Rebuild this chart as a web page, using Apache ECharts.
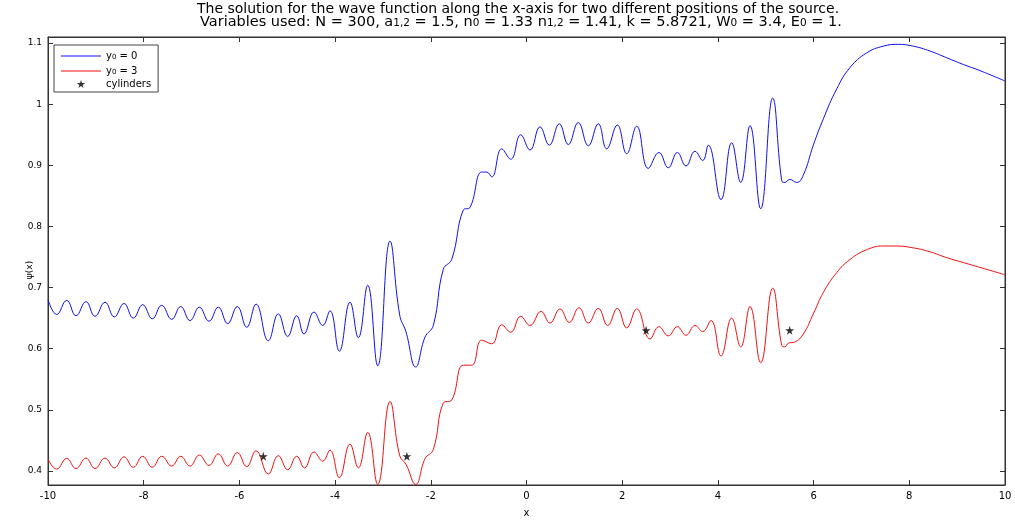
<!DOCTYPE html>
<html>
<head>
<meta charset="utf-8">
<script src="https://cdn.jsdelivr.net/npm/echarts@6/dist/echarts.min.js"></script>
<style>
html,body{margin:0;padding:0;background:#fff;}
#chart{width:1015px;height:523px;}
</style>
</head>
<body>
<div id="chart"></div>
<script>
// ---- data ----
const blueCurve = [
 [-10,0.680],[-9.818,0.656],[-9.609,0.679],[-9.415,0.654],[-9.206,0.677],[-9.018,0.653],
 [-8.809,0.676],[-8.614,0.652],[-8.412,0.674],[-8.217,0.650],[-8.021,0.672],[-7.820,0.649],
 [-7.624,0.671],[-7.415,0.648],[-7.227,0.669],[-7.032,0.646],[-6.838,0.668],[-6.635,0.645],
 [-6.441,0.668],[-6.245,0.641],[-6.044,0.669],[-5.847,0.635],[-5.653,0.673],[-5.396,0.613],
 [-5.187,0.657],[-4.991,0.620],[-4.802,0.654],[-4.650,0.624],[-4.441,0.660],[-4.259,0.638],
 [-4.107,0.662],[-3.912,0.596],[-3.689,0.676],[-3.515,0.618],[-3.319,0.704],[-3.110,0.572],
 [-2.853,0.776],[-2.650,0.655],[-2.520,0.628],[-2.316,0.570],[-2.121,0.619],[-1.948,0.638],
 [-1.739,0.730],[-1.563,0.746],[-1.321,0.827],[-1.181,0.831],[-0.936,0.889],[-0.832,0.889],
 [-0.727,0.881],[-0.518,0.927],[-0.330,0.910],[-0.121,0.950],[0.073,0.925],[0.282,0.963],
 [0.477,0.933],[0.685,0.968],[0.874,0.934],[1.082,0.970],[1.292,0.932],[1.500,0.968],
 [1.676,0.927],[1.898,0.966],[2.094,0.919],[2.303,0.964],[2.545,0.895],[2.769,0.921],
 [2.963,0.896],[3.152,0.921],[3.333,0.899],[3.521,0.923],[3.682,0.908],[3.799,0.933],
 [4.065,0.844],[4.288,0.937],[4.476,0.872],[4.671,0.965],[4.894,0.829],[5.145,1.010],
 [5.333,0.875],[5.400,0.872],[5.500,0.877],[5.646,0.872],[5.785,0.884],[5.994,0.933],
 [6.203,0.976],[6.483,1.025],[6.761,1.060],[7.110,1.084],[7.456,1.095],[7.770,1.098],
 [8.084,1.095],[8.433,1.087],[8.782,1.076],[9.129,1.065],[9.477,1.055],[10,1.038]
];
const redCurve = [
 [-10,0.419],[-9.818,0.403],[-9.609,0.4205],[-9.415,0.404],[-9.206,0.421],[-9.018,0.404],
 [-8.809,0.421],[-8.614,0.405],[-8.412,0.423],[-8.217,0.406],[-8.021,0.424],[-7.820,0.406],
 [-7.624,0.424],[-7.415,0.408],[-7.227,0.424],[-7.032,0.408],[-6.838,0.426],[-6.635,0.409],
 [-6.441,0.428],[-6.245,0.408],[-6.044,0.430],[-5.847,0.407],[-5.653,0.433],[-5.396,0.395],
 [-5.187,0.425],[-4.991,0.402],[-4.802,0.424],[-4.640,0.405],[-4.441,0.431],[-4.259,0.416],
 [-4.107,0.434],[-3.912,0.389],[-3.689,0.444],[-3.515,0.405],[-3.319,0.463],[-3.110,0.378],
 [-2.853,0.5135],[-2.650,0.425],[-2.520,0.411],[-2.316,0.378],[-2.121,0.420],[-1.948,0.435],
 [-1.739,0.511],[-1.563,0.516],[-1.321,0.573],[-1.145,0.573],[-0.936,0.614],[-0.727,0.608],
 [-0.518,0.639],[-0.330,0.627],[-0.121,0.653],[0.073,0.638],[0.303,0.661],[0.491,0.642],
 [0.700,0.665],[0.894,0.643],[1.097,0.667],[1.292,0.642],[1.500,0.666],[1.697,0.638],
 [1.898,0.666],[2.094,0.634],[2.303,0.665],[2.581,0.616],[2.769,0.636],[2.963,0.621],
 [3.152,0.636],[3.333,0.622],[3.521,0.638],[3.682,0.628],[3.856,0.646],[4.065,0.588],
 [4.288,0.650],[4.476,0.603],[4.671,0.669],[4.894,0.577],[5.145,0.699],[5.333,0.6055],
 [5.400,0.603],[5.470,0.609],[5.610,0.611],[5.785,0.624],[5.994,0.657],[6.203,0.692],
 [6.483,0.7245],[6.761,0.746],[7.110,0.762],[7.456,0.768],[7.737,0.768],[8.084,0.765],
 [8.433,0.7586],[8.782,0.749],[9.129,0.741],[9.477,0.733],[10,0.721]
];
const cylinderX = [-5.5, -2.5, 2.5, 5.5];
const cylinderY = [0.424, 0.424, 0.630, 0.630];
const yTickValues = [0.4, 0.5, 0.6, 0.7, 0.8, 0.9, 1.0, 1.1];
const seriesNames = ['y0 = 0', 'y0 = 3', 'cylinders'];
const titleLine1 = 'The solution for the wave function along the x-axis for two different positions of the source.';
const titleLine2 = '{n|Variables used: N = 300, a}{s|1,2}{n| = 1.5, n}{s|0}{n| = 1.33 n}{s|1,2}{n| = 1.41, k = 5.8721, W}{s|0}{n| = 3.4, E}{s|0}{n| = 1.}';

// ---- chart ----
const FONT = 'DejaVu Sans';
const AX = '#333';
const chart = echarts.init(document.getElementById('chart'), null, {renderer: 'canvas'});
const starPath = 'path://M50,0 L61.2,34.5 L97.6,34.5 L68.2,55.9 L79.4,90.5 L50,69.1 L20.6,90.5 L31.8,55.9 L2.4,34.5 L38.8,34.5 Z';
const lineIcon = 'path://M0,0 L40,0 L40,1 L0,1 Z';
const cylData = cylinderX.map((x, i) => [x, cylinderY[i]]);

function legendFmt(name) {
  if (name === seriesNames[0]) return '{n|y}{s|0}{n| = 0}';
  if (name === seriesNames[1]) return '{n|y}{s|0}{n| = 3}';
  return '{n|' + name + '}';
}

const tickStyle = {lineStyle: {color: AX, width: 1}};
const option = {
  animation: false,
  backgroundColor: '#fff',
  title: [
    {
      text: titleLine1, left: 197, top: 2, padding: 0,
      textStyle: {fontFamily: FONT, fontSize: 14, fontWeight: 'normal', color: '#000'}
    },
    {
      text: titleLine2, left: 200, top: 15, padding: 0,
      textStyle: {
        fontFamily: FONT, fontSize: 14.5, fontWeight: 'normal', color: '#000',
        rich: {
          n: {fontFamily: FONT, fontSize: 14.5, lineHeight: 14, verticalAlign: 'top', color: '#000'},
          s: {fontFamily: FONT, fontSize: 10.5, lineHeight: 10, verticalAlign: 'bottom', padding: [8, 0, 0, 0], color: '#000'}
        }
      }
    }
  ],
  legend: {
    left: 54, top: 45, orient: 'vertical',
    data: [
      {name: seriesNames[0], icon: lineIcon},
      {name: seriesNames[1], icon: lineIcon},
      {name: seriesNames[2], icon: starPath}
    ],
    itemWidth: 40, itemHeight: 8, itemGap: 3,
    padding: [4, 7, 3, 7],
    borderColor: '#444', borderWidth: 1, backgroundColor: '#fff',
    formatter: legendFmt,
    textStyle: {
      fontFamily: FONT, fontSize: 10, color: '#000',
      rich: {
        n: {fontFamily: FONT, fontSize: 10, lineHeight: 10, verticalAlign: 'top', color: '#000'},
        s: {fontFamily: FONT, fontSize: 7, lineHeight: 7, verticalAlign: 'bottom', padding: [5, 0, 0, 0], color: '#000'}
      }
    }
  },
  grid: {left: 48, right: 10, top: 37, bottom: 34, containLabel: false,
         show: true, borderColor: AX, borderWidth: 1, backgroundColor: '#fff'},
  xAxis: [
    {
      type: 'value', min: -10, max: 10, interval: 2, position: 'bottom',
      name: 'x', nameLocation: 'middle', nameGap: 23, nameMoveOverlap: false,
      nameTextStyle: {fontFamily: FONT, fontSize: 10, color: '#000'},
      axisLine: {show: true, onZero: false, lineStyle: {color: AX, width: 1}},
      axisTick: Object.assign({inside: true, length: 5}, tickStyle),
      axisLabel: {fontFamily: FONT, fontSize: 10, color: '#000', margin: 6},
      splitLine: {show: false}
    },
    {
      type: 'value', min: -10, max: 10, interval: 2, position: 'top',
      axisLine: {show: true, onZero: false, lineStyle: {color: AX, width: 1}},
      axisTick: Object.assign({inside: true, length: 5}, tickStyle),
      axisLabel: {show: false}, splitLine: {show: false}
    }
  ],
  yAxis: [
    {
      type: 'value', min: 0.377, max: 1.11, position: 'left',
      name: 'ψ(x)', nameLocation: 'middle', nameGap: 14, nameRotate: 90, nameMoveOverlap: false,
      nameTextStyle: {fontFamily: FONT, fontSize: 9, color: '#000', padding: [0, 18, 0, 0]},
      axisLine: {show: true, onZero: false, lineStyle: {color: AX, width: 1}},
      axisTick: Object.assign({inside: true, length: 5, customValues: yTickValues}, tickStyle),
      axisLabel: {fontFamily: FONT, fontSize: 9, color: '#000', margin: 6, customValues: yTickValues,
                  formatter: v => String(parseFloat(Number(v).toFixed(3)))},
      splitLine: {show: false}
    },
    {
      type: 'value', min: 0.377, max: 1.11, position: 'right',
      axisLine: {show: true, onZero: false, lineStyle: {color: AX, width: 1}},
      axisTick: Object.assign({inside: true, length: 5, customValues: yTickValues}, tickStyle),
      axisLabel: {show: false}, splitLine: {show: false}
    }
  ],
  series: [
    {
      name: seriesNames[0], type: 'line', xAxisIndex: 0, yAxisIndex: 0,
      data: blueCurve, symbol: 'none', showSymbol: false, smooth: 0.45,
      lineStyle: {color: '#1010f0', width: 1}, itemStyle: {color: '#1010f0'}, z: 3
    },
    {
      name: seriesNames[1], type: 'line', xAxisIndex: 0, yAxisIndex: 0,
      data: redCurve, symbol: 'none', showSymbol: false, smooth: 0.45,
      lineStyle: {color: '#f01010', width: 1}, itemStyle: {color: '#f01010'}, z: 3
    },
    {
      name: seriesNames[2], type: 'scatter', xAxisIndex: 0, yAxisIndex: 0,
      data: cylData, symbol: starPath, symbolSize: 9,
      itemStyle: {color: '#000'}, z: 4
    }
  ]
};
chart.setOption(option);
</script>
</body>
</html>
